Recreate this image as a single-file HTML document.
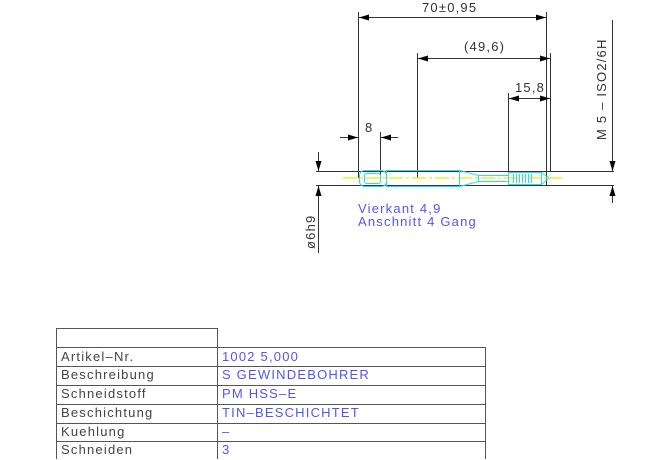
<!DOCTYPE html>
<html><head><meta charset="utf-8"><style>
html,body{margin:0;padding:0;background:#fff;}
svg{display:block;}
text{font-family:"Liberation Sans",sans-serif;font-size:13px;letter-spacing:1.2px;}
</style></head><body>
<svg width="670" height="460" viewBox="0 0 670 460" xmlns="http://www.w3.org/2000/svg">
<defs>
<marker id="a" viewBox="0 0 10 6" refX="10" refY="3" markerWidth="10" markerHeight="6" orient="auto-start-reverse" markerUnits="userSpaceOnUse"><path d="M0,0L10,3L0,6z" fill="#000"/></marker>
</defs>
<g stroke="#333" stroke-width="1" fill="none">
<line x1="358.5" y1="12" x2="358.5" y2="178"/>
<line x1="380.5" y1="132" x2="380.5" y2="178"/>
<line x1="417.5" y1="53" x2="417.5" y2="178"/>
<line x1="508.5" y1="93" x2="508.5" y2="185"/>
<line x1="546.5" y1="12" x2="546.5" y2="185"/>
<line x1="550.5" y1="53" x2="550.5" y2="172"/>
<line x1="316" y1="171.5" x2="614" y2="171.5"/>
<line x1="316" y1="185.5" x2="614" y2="185.5"/>
<line x1="359" y1="17.5" x2="546" y2="17.5" marker-start="url(#a)" marker-end="url(#a)"/>
<line x1="418" y1="58.5" x2="550" y2="58.5" marker-start="url(#a)" marker-end="url(#a)"/>
<line x1="509" y1="98.5" x2="550" y2="98.5" marker-start="url(#a)" marker-end="url(#a)"/>
<line x1="340" y1="137.5" x2="358" y2="137.5" marker-end="url(#a)"/>
<line x1="398" y1="137.5" x2="381" y2="137.5" marker-end="url(#a)"/>
<line x1="612.5" y1="20" x2="612.5" y2="171" marker-end="url(#a)"/>
<line x1="612.5" y1="203" x2="612.5" y2="186" marker-end="url(#a)"/>
<line x1="318.5" y1="152" x2="318.5" y2="171" marker-end="url(#a)"/>
<line x1="318.5" y1="253" x2="318.5" y2="186" marker-end="url(#a)"/>
</g>
<line x1="343" y1="178" x2="562" y2="178" stroke="#eeee00" stroke-width="1.2" stroke-dasharray="14,3,3,3"/>
<g stroke="#22e0f0" stroke-width="1" fill="none">
<rect x="359.5" y="170.5" width="27" height="16" rx="5"/>
<rect x="364.5" y="173.5" width="16" height="10" rx="2"/>
<path d="M386.5,170.5 H459.5 L478.5,175.5 H508.5 M386.5,186.5 H459.5 L478.5,181.5 H508.5"/>
<line x1="386.5" y1="170" x2="386.5" y2="187"/>
<line x1="459.5" y1="170" x2="459.5" y2="187"/>
<line x1="478.5" y1="175" x2="478.5" y2="182"/>
<rect x="508.5" y="172.5" width="33" height="12"/>
<path d="M541.5,172.5 L549,178 L541.5,184.5"/>
<path d="M513.5,174v9M516.5,174v9M519.5,174v9M522.5,174v9M525.5,174v9M528.5,174v9M531.5,174v9"/>
</g>
<g fill="#333">
<text x="422" y="12">70±0,95</text>
<text x="464" y="51">(49,6)</text>
<text x="515" y="92">15,8</text>
<text x="365" y="132">8</text>
<text transform="translate(606,140) rotate(-90)">M 5 – ISO2/6H</text>
<text transform="translate(315,249) rotate(-90)">ø6h9</text>
</g>
<g fill="#5555ee" style="letter-spacing:1.5px">
<text x="358" y="213">Vierkant 4,9</text>
<text x="358" y="226">Anschnitt 4 Gang</text>
</g>
<g stroke="#555" stroke-width="1" fill="none">
<path d="M56.5,459 V328.5 H217.5 V459 M56.5,347.5 H485.5 V459"/>
<path d="M56,366.5H485M56,385.5H485M56,404.5H485M56,423.5H485M56,441.5H485"/>
</g>
<g fill="#444">
<text x="61" y="361">Artikel–Nr.</text>
<text x="61" y="379">Beschreibung</text>
<text x="61" y="398">Schneidstoff</text>
<text x="61" y="417">Beschichtung</text>
<text x="61" y="436">Kuehlung</text>
<text x="61" y="454">Schneiden</text>
</g>
<g fill="#5555ee">
<text x="222" y="361">1002 5,000</text>
<text x="222" y="379">S GEWINDEBOHRER</text>
<text x="222" y="398">PM HSS–E</text>
<text x="222" y="417">TIN–BESCHICHTET</text>
<text x="222" y="436">–</text>
<text x="222" y="454">3</text>
</g>
</svg>
</body></html>
